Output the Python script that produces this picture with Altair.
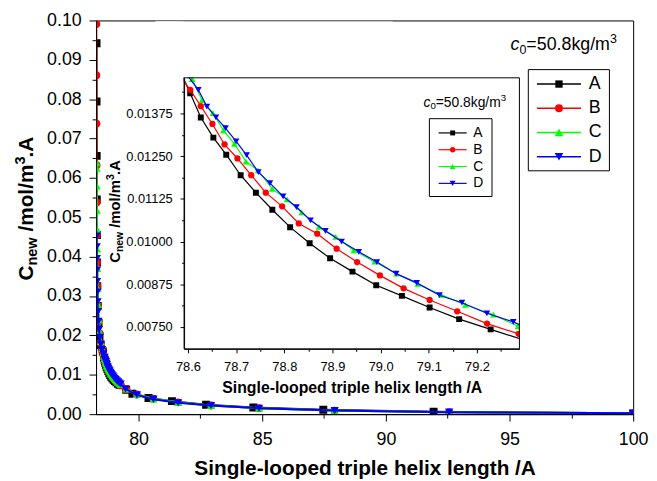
import altair as alt
import pandas as pd

FONT = "Liberation Sans"
SERIES = ["A", "B", "C", "D"]
COLORS = ["#000000", "#ff0000", "#00ff00", "#0000ff"]
SHAPES = ["square", "circle", "triangle-up", "triangle-down"]

A_x = [78.30, 78.30, 78.305, 78.31, 78.315, 78.32, 78.33, 78.35, 78.38, 78.42, 78.47, 78.555,
       78.6047, 78.6267, 78.6528, 78.6795, 78.7094, 78.7411, 78.7752, 78.8121, 78.8526, 78.8951,
       78.9415, 78.9908, 79.0441, 79.1016, 79.1630, 79.2283,
       79.50, 79.75, 80.40, 81.35, 82.73, 84.64, 87.47, 91.93, 100.0]
A_y = [0.0942, 0.0794, 0.0656, 0.0545, 0.0455, 0.0385, 0.0325, 0.0275, 0.0232, 0.0198, 0.0175, 0.0159,
       0.01434, 0.01363, 0.01304, 0.01254, 0.01194, 0.01143, 0.01093, 0.01042, 0.00995, 0.00951,
       0.00912, 0.00872, 0.00841, 0.00807, 0.00773, 0.00743,
       0.0062, 0.0052, 0.0041, 0.0033, 0.0024, 0.0017, 0.0011, 0.0006, 0.0002]

B_x = [78.29, 78.29, 78.295, 78.30, 78.305, 78.31, 78.32, 78.335, 78.355, 78.385, 78.42, 78.465, 78.515, 78.565,
       78.6047, 78.6267, 78.6507, 78.6760, 78.7027, 78.7314, 78.7616, 78.7955, 78.8300, 78.8684,
       78.9086, 78.9511, 78.9984, 79.0476, 79.1016, 79.1589, 79.2207, 79.2864,
       79.50, 79.93, 80.60, 81.60, 82.93, 84.87, 87.93, 92.56, 100.0]
B_y = [0.0991, 0.0861, 0.0738, 0.0632, 0.0538, 0.0455, 0.0385, 0.0325, 0.0275, 0.0235, 0.0205, 0.0180, 0.0162, 0.0152,
       0.01444, 0.01396, 0.01344, 0.01284, 0.01243, 0.01194, 0.01143, 0.01103, 0.01053, 0.01023,
       0.00979, 0.00940, 0.00901, 0.00863, 0.00829, 0.00796, 0.00760, 0.00730,
       0.0063, 0.0050, 0.0039, 0.0030, 0.0022, 0.0015, 0.0009, 0.0005, 0.0002]

C_x = [78.30, 78.30, 78.305, 78.31, 78.315, 78.32, 78.33, 78.345, 78.365, 78.395, 78.43, 78.475, 78.525, 78.575,
       78.6088, 78.6292, 78.6520, 78.6737, 78.6965, 78.7205, 78.7454, 78.7749, 78.8057, 78.8361,
       78.8721, 78.9066, 78.9444, 78.9875, 79.0327, 79.0770, 79.1255, 79.1760, 79.2339, 79.2850,
       79.50, 79.93, 80.60, 81.60, 82.93, 84.87, 87.93, 92.56, 100.0]
C_y = [0.0639, 0.0625, 0.0580, 0.0518, 0.0470, 0.0420, 0.0370, 0.0320, 0.0278, 0.0240, 0.0210, 0.0185, 0.0167, 0.0156,
       0.01475, 0.01414, 0.01376, 0.01325, 0.01286, 0.01234, 0.01208, 0.01154, 0.01123, 0.01085,
       0.01043, 0.01014, 0.00974, 0.00941, 0.00906, 0.00876, 0.00844, 0.00815, 0.00786, 0.00752,
       0.0064, 0.0050, 0.0039, 0.0030, 0.0022, 0.0015, 0.0009, 0.0005, 0.0002]

D_x = [78.305, 78.305, 78.31, 78.315, 78.32, 78.33, 78.34, 78.355, 78.375, 78.40, 78.435, 78.475, 78.52, 78.575,
       78.6216, 78.6394, 78.6581, 78.6780, 78.7000, 78.7218, 78.7462, 78.7702, 78.7975, 78.8253,
       78.8544, 78.8854, 78.9189, 78.9546, 78.9922, 79.0322, 79.0749, 79.1220, 79.1688, 79.2205, 79.2752,
       79.47, 79.93, 80.60, 81.60, 82.93, 84.87, 87.93, 92.56, 100.0]
D_y = [0.0452, 0.0425, 0.0395, 0.0365, 0.0337, 0.0310, 0.0285, 0.0260, 0.0236, 0.0215, 0.0195, 0.0178, 0.0164, 0.0153,
       0.01444, 0.01395, 0.01363, 0.01332, 0.01293, 0.01253, 0.01203, 0.01171, 0.01132, 0.01101,
       0.01062, 0.01031, 0.01000, 0.00970, 0.00940, 0.00906, 0.00879, 0.00843, 0.00821, 0.00790, 0.00765,
       0.0064, 0.0049, 0.0038, 0.0029, 0.0022, 0.0015, 0.0009, 0.0005, 0.0002]

MAIN_X_TICKS = [80, 85, 90, 95, 100]
MAIN_X_MINOR = [82.5, 87.5, 92.5, 97.5]
MAIN_Y_TICKS = [0.00, 0.01, 0.02, 0.03, 0.04, 0.05, 0.06, 0.07, 0.08, 0.09, 0.10]
MAIN_Y_MINOR = [0.005, 0.015, 0.025, 0.035, 0.045, 0.055, 0.065, 0.075, 0.085, 0.095]
INSET_X_TICKS = [78.6, 78.7, 78.8, 78.9, 79.0, 79.1, 79.2]
INSET_X_MINOR = [78.65, 78.75, 78.85, 78.95, 79.05, 79.15, 79.25]
INSET_Y_TICKS = [0.0075, 0.00875, 0.01, 0.01125, 0.0125, 0.01375]
INSET_Y_MINOR = [0.008125, 0.009375, 0.010625, 0.011875, 0.013125, 0.014375]

X_TITLE = "Single-looped triple helix length /A"
ANNOT = ["c", "0", "=50.8kg/m", "3"]
YT = ["C", "new", " /mol/m", "3", ".A"]

# ---------------------------------------------------------------- data table
rows = []
for s, xs, ys in zip(SERIES, [A_x, B_x, C_x, D_x], [A_y, B_y, C_y, D_y]):
    for i, (xv, yv) in enumerate(zip(xs, ys)):
        rows.append({"s": s, "i": i, "x": xv, "y": yv})
df = pd.DataFrame(rows)
dummy = pd.DataFrame({"k": [0]})

W, H = 543, 398

main_xs = alt.Scale(domain=[78.28, 100], nice=False, zero=False)
main_ys = alt.Scale(domain=[0, 0.10], nice=False, zero=False)
ins_xs = alt.Scale(domain=[78.592, 79.288], range=[89, 428], nice=False, zero=False)
ins_ys = alt.Scale(domain=[0.00686, 0.01479], range=[332, 58], nice=False, zero=False)

common = dict(labelFont=FONT, labelColor="black", labelFlush=False, labelOverlap=False,
              labelBound=False, tickColor="black", tickWidth=1, domainColor="black",
              domainWidth=1, grid=False, zindex=1)

main_xa = alt.Axis(orient="bottom", values=MAIN_X_TICKS, format="d", title=X_TITLE,
                   titleFont=FONT, titleFontSize=21, titleFontWeight="bold", titleColor="black",
                   titlePadding=9, labelFontSize=18, labelPadding=10, tickSize=7, **common)
main_ya = alt.Axis(orient="left", values=MAIN_Y_TICKS, format=".2f", title=None,
                   labelFontSize=18, labelPadding=8, tickSize=7, **common)
ins_xa = alt.Axis(orient="bottom", offset=-(H - 332), values=INSET_X_TICKS, format=".1f",
                  title=X_TITLE, titleFont=FONT, titleFontSize=16, titleFontWeight="bold",
                  titleColor="black", titlePadding=6, labelFontSize=13, labelPadding=8,
                  tickSize=4, **common)
ins_ya = alt.Axis(orient="left", offset=-89, values=INSET_Y_TICKS, format=".5f", title=None,
                  labelFontSize=13, labelPadding=8, tickSize=4, **common)


def minor_axis(orient, values, size, offset=0):
    return alt.Axis(orient=orient, values=values, labels=False, domain=False, title=None,
                    tickSize=size, tickColor="black", tickWidth=1, grid=False, offset=offset,
                    zindex=1)


def data_layers(xs, ys, xa, ya, lw, sizes, line_filter=None, pt_filter=None):
    out = []
    for s, c, shp in zip(SERIES, COLORS, SHAPES):
        base = alt.Chart(df).transform_filter(alt.datum.s == s)
        lb = base.transform_filter(line_filter) if line_filter else base
        pb = base.transform_filter(pt_filter) if pt_filter else base
        enc = dict(x=alt.X("x:Q", scale=xs, axis=xa), y=alt.Y("y:Q", scale=ys, axis=ya))
        out.append(lb.mark_line(color=c, strokeWidth=lw, clip=True).encode(order="i:Q", **enc))
        out.append(pb.mark_point(shape=shp, filled=True, size=sizes[shp], color=c, opacity=1,
                                 clip=True).encode(**enc))
    return out


main_sizes = {"square": 64, "circle": 64, "triangle-up": 70, "triangle-down": 70}
ins_sizes = {"square": 36, "circle": 40, "triangle-up": 45, "triangle-down": 45}

main_group = alt.layer(*data_layers(main_xs, main_ys, main_xa, main_ya, 2, main_sizes))
ins_group = alt.layer(*data_layers(
    ins_xs, ins_ys, ins_xa, ins_ya, 1.2, ins_sizes,
    line_filter="datum.x >= 78.55 && datum.x <= 79.55",
    pt_filter="datum.x >= 78.592 && datum.x <= 79.288"))

main_minor = alt.Chart(df).mark_point(opacity=0).encode(
    x=alt.X("x:Q", scale=main_xs, axis=minor_axis("bottom", MAIN_X_MINOR, 4)),
    y=alt.Y("y:Q", scale=main_ys, axis=minor_axis("left", MAIN_Y_MINOR, 4)))
ins_minor = alt.Chart(df).mark_point(opacity=0).encode(
    x=alt.X("x:Q", scale=ins_xs, axis=minor_axis("bottom", INSET_X_MINOR, 2.5, -(H - 332))),
    y=alt.Y("y:Q", scale=ins_ys, axis=minor_axis("left", INSET_Y_MINOR, 2.5, -89)))

# ---------------------------------------------------------------- decorations
WREG = {"c": .5, "0": .556, "=": .584, "5": .556, ".": .278, "8": .556, "k": .5, "g": .556,
        "/": .278, "m": .833, "3": .556, " ": .278}
WBOLD = {"C": .722, "n": .611, "e": .556, "w": .778, " ": .278, "/": .278, "m": .889, "o": .611,
         "l": .278, "3": .48, ".": .278, "A": .722}


def tw(s, size, bold=False):
    t = WBOLD if bold else WREG
    return sum(t.get(ch, .556) for ch in s) * size


def txt(text, px, py, size, weight="normal", style="normal", angle=0, align="left",
        baseline="alphabetic"):
    return alt.Chart(dummy).mark_text(
        text=text, font=FONT, fontSize=size, fontWeight=weight, fontStyle=style, angle=angle,
        align=align, baseline=baseline, color="black").encode(x=alt.value(px), y=alt.value(py))


def rect(x0, x1, y0, y1, fill=None, stroke=None):
    kw = {}
    if fill:
        kw["fill"] = fill
        kw["fillOpacity"] = 1
    else:
        kw["fillOpacity"] = 0
    if stroke:
        kw["stroke"] = stroke
        kw["strokeWidth"] = 1
    else:
        kw["strokeWidth"] = 0
    return alt.Chart(dummy).mark_rect(**kw).encode(
        x=alt.value(x0), x2=alt.value(x1), y=alt.value(y0), y2=alt.value(y1))


def ytitle(xb, y0, big, small, sub, sup):
    out = []
    y = y0
    specs = [(YT[0], big, 0), (YT[1], small, sub), (YT[2], big, 0), (YT[3], small, sup),
             (YT[4], big, 0)]
    for t, sz, sh in specs:
        lead = len(t) - len(t.lstrip(" "))
        y -= tw(" " * lead, sz, True)
        t = t.lstrip(" ")
        out.append(txt(t, xb + sh, y, sz, weight="bold", angle=270))
        y -= tw(t, sz, True)
    return out


def annot(x0, yb, big, small, sub, sup):
    out = []
    x = x0
    specs = [(ANNOT[0], big, 0, "italic"), (ANNOT[1], small, sub, "normal"),
             (ANNOT[2], big, 0, "normal"), (ANNOT[3], small, sup, "normal")]
    for t, sz, sh, st in specs:
        out.append(txt(t, x, yb + sh, sz, style=st))
        x += tw(t, sz)
    return out


def legend(box, y0, dy, lx0, lx1, tx, fs, sizes, lw):
    out = [rect(box[0], box[1], box[2], box[3], fill="white", stroke="black")]
    for k, (s, c, shp) in enumerate(zip(SERIES, COLORS, SHAPES)):
        yy = y0 + k * dy
        out.append(alt.Chart(dummy).mark_rule(color=c, strokeWidth=lw).encode(
            x=alt.value(lx0), x2=alt.value(lx1), y=alt.value(yy)))
        out.append(alt.Chart(dummy).mark_point(shape=shp, filled=True, size=sizes[shp], color=c,
                                               opacity=1).encode(
            x=alt.value((lx0 + lx1) / 2), y=alt.value(yy)))
        out.append(txt(s, tx, yy, fs, baseline="middle"))
    return out


masks = [
    rect(60, 300, 1, 57.5, fill="white"),
    rect(60, 88.5, 1, 140, fill="white"),
    rect(428.5, 538, 200, 388, fill="white"),
]
frame = [rect(89, 428, 58, 332, stroke="black")]

decor = []
decor += ytitle(-64, 263, 21, 14.7, 4.5, -8)
decor += ytitle(24, 245, 15, 10.5, 3, -5.5)
decor += annot(419, 30, 18, 12.6, 4, -7)
decor += annot(331, 87, 14, 9.8, 3, -5.5)
decor += legend((437, 519, 49.7, 152), 64.3, 24.5, 445.7, 490.3, 498, 18,
                {"square": 55, "circle": 64, "triangle-up": 75, "triangle-down": 75}, 1.5)
decor += legend((337, 400.3, 99.3, 178), 113.7, 17, 346.3, 374.7, 381.3, 14,
                {"square": 25, "circle": 30, "triangle-up": 36, "triangle-down": 36}, 1.2)

chart = alt.layer(main_group, main_minor, ins_group, ins_minor, *masks, *frame, *decor
                  ).resolve_scale(x="independent", y="independent").properties(
    width=W, height=H,
    padding={"left": 89, "top": 10, "right": 16, "bottom": 65},
    autosize=alt.AutoSizeParams(type="none"),
    background="white",
).configure_view(stroke="black", strokeWidth=1)

chart.save("out.html", embed_options={"renderer": "svg", "actions": False})
